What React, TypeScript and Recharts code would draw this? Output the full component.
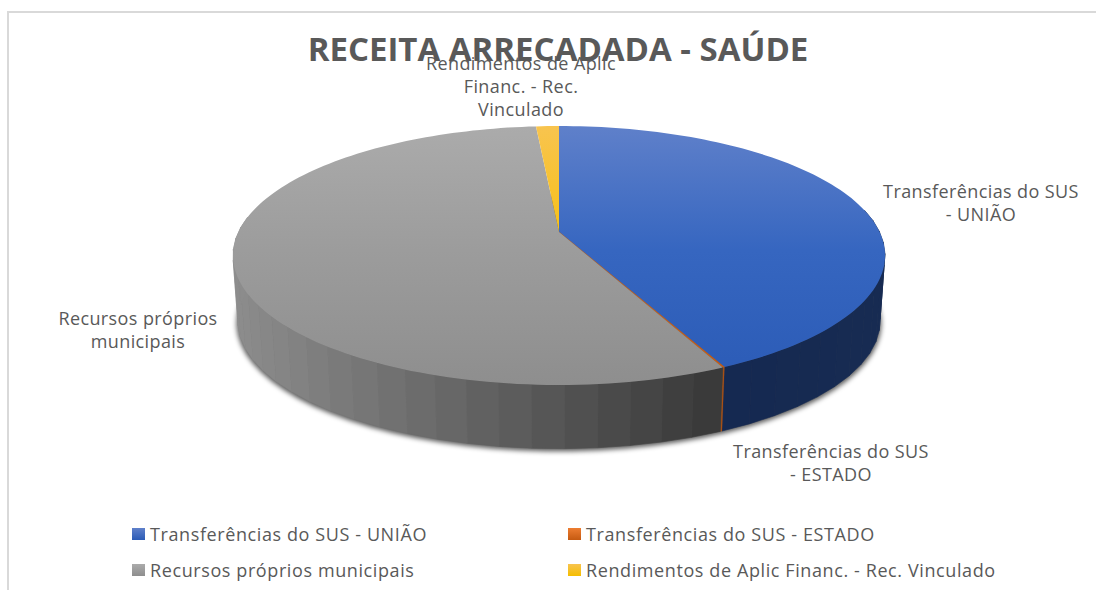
import { PieChart, Pie, Cell, Legend } from "recharts";

const categories = [
  "Transferências do SUS - UNIÃO",
  "Transferências do SUS - ESTADO",
  "Recursos próprios municipais",
  "Rendimentos de Aplic Financ. - Rec. Vinculado",
];
const values = [42.9, 0.08, 55.67, 1.35];
const sliceLabels = [
  ["Transferências do SUS", "- UNIÃO"],
  ["Transferências do SUS", "- ESTADO"],
  ["Recursos próprios", "municipais"],
  ["Rendimentos de Aplic", "Financ. - Rec.", "Vinculado"],
];

const TITLE = "RECEITA ARRECADADA - SAÚDE";
const FONT = "'Open Sans', sans-serif";
const TEXT_COLOR = "#595959";

const COLORS = ["#3565c0", "#ed7d31", "#9c9c9c", "#f5be00"];
// top, middle and bottom of each top face
const GRADIENTS = [
  ["#5f80ca", "#3666c0", "#2b5bb6"],
  ["#ed7d31", "#e06f25", "#c55a11"],
  ["#ababab", "#9c9c9c", "#8e8e8e"],
  ["#f8c44f", "#f6c010", "#f5be00"],
];
// side wall colour at the left / right end of the wall
const WALLS = [
  [[14, 34, 76], [23, 43, 82]],
  [[170, 80, 20], [170, 80, 20]],
  [[140, 140, 140], [56, 56, 56]],
  [[150, 110, 0], [150, 110, 0]],
];
const LABEL_SPOTS = [
  { x: 981, y: 198 },
  { x: 831, y: 458 },
  { x: 138, y: 325 },
  { x: 521, y: 70 },
];

// perspective of the tilted disc
const TILT = 0.1815;
const FLATTEN = 0.3905;
const DEPTH = 66;
const BOTTOM_SCALE = 0.985;

function project(cx: number, cy: number, r: number, angle: number, bottom = false) {
  const rad = (angle * Math.PI) / 180;
  const u = Math.cos(rad);
  const v = -Math.sin(rad);
  const w = 1 - TILT * v;
  const s = bottom ? r * BOTTOM_SCALE : r;
  return {
    x: cx + (s * u) / w,
    y: cy + (bottom ? DEPTH : 0) + (s * FLATTEN * v) / w,
    v,
  };
}

function mix(a: number[], b: number[], t: number) {
  const c = a.map((n, i) => Math.round(n + (b[i] - n) * t));
  return `rgb(${c[0]},${c[1]},${c[2]})`;
}

function Slice(props: any) {
  const { cx, cy, outerRadius, startAngle, endAngle, index } = props;
  const span = endAngle - startAngle;
  const steps = Math.max(1, Math.ceil(Math.abs(span) / 1.5));
  const rim = [];
  for (let i = 0; i <= steps; i++) {
    rim.push(project(cx, cy, outerRadius, startAngle + (span * i) / steps));
  }
  const top =
    `M${cx},${cy} ` + rim.map((p) => `L${p.x.toFixed(1)},${p.y.toFixed(1)}`).join(" ") + " Z";

  const walls = [];
  const wallSteps = Math.max(1, Math.ceil(Math.abs(span) / 5));
  for (let i = 0; i < wallSteps; i++) {
    const a0 = startAngle + (span * i) / wallSteps;
    const a1 = startAngle + (span * (i + 1)) / wallSteps;
    const p0 = project(cx, cy, outerRadius, a0);
    const p1 = project(cx, cy, outerRadius, a1);
    if (p0.v < -0.1 && p1.v < -0.1) continue;
    const q0 = project(cx, cy, outerRadius, a0, true);
    const q1 = project(cx, cy, outerRadius, a1, true);
    const t = ((p0.x + p1.x) / 2 - (cx - outerRadius)) / (outerRadius * 2);
    const [from, to] = WALLS[index];
    const c = mix(from, to, index === 2 ? t / 0.75 : t);
    walls.push(
      <path
        key={i}
        d={`M${p0.x},${p0.y} L${p1.x},${p1.y} L${q1.x},${q1.y} L${q0.x},${q0.y} Z`}
        fill={c}
        stroke={c}
        strokeWidth={index === 1 ? 0.2 : 0.6}
      />
    );
  }

  let shadow = null;
  if (index === 0) {
    const pts = [];
    for (let a = 0; a < 360; a += 4) {
      const p = project(cx, cy + 2, outerRadius * 1.004, a, true);
      pts.push(`${p.x.toFixed(1)},${p.y.toFixed(1)}`);
    }
    shadow = (
      <polygon points={pts.join(" ")} fill="#000" fillOpacity={0.65} style={{ filter: "blur(2.5px)" }} />
    );
  }

  return (
    <g>
      {shadow}
      {walls}
      <path
        d={top}
        fill={`url(#slice${index})`}
        stroke={index === 1 ? GRADIENTS[1][2] : "none"}
        strokeWidth={index === 1 ? 0.4 : 0}
      />
    </g>
  );
}

function SliceLabel(props: any) {
  const spot = LABEL_SPOTS[props.index];
  const lines = sliceLabels[props.index];
  return (
    <text
      x={spot.x}
      y={spot.y}
      textAnchor="middle"
      fontFamily={FONT}
      fontSize={18}
      letterSpacing={0.4}
      fill={TEXT_COLOR}
    >
      {lines.map((line, i) => (
        <tspan key={i} x={spot.x} dy={i === 0 ? 0 : 23}>
          {line}
        </tspan>
      ))}
    </text>
  );
}

function LegendBlock(props: any) {
  const items = props.payload || [];
  return (
    <div style={{ position: "relative", width: 1096, height: 80 }}>
      {items.map((item: any, i: number) => (
        <div
          key={i}
          style={{
            position: "absolute",
            left: i % 2 === 0 ? 132 : 568,
            top: i < 2 ? 0 : 36,
            display: "flex",
            alignItems: "center",
            fontFamily: FONT,
            fontSize: 18,
            letterSpacing: 0.6,
            color: TEXT_COLOR,
            whiteSpace: "nowrap",
            lineHeight: "24px",
          }}
        >
          <span
            style={{
              width: 13,
              height: 12,
              marginRight: 5,
              background: `linear-gradient(${GRADIENTS[i][0]}, ${GRADIENTS[i][2]})`,
            }}
          />
          {item.value}
        </div>
      ))}
    </div>
  );
}

export default function App() {
  const data = categories.map((name, i) => ({ name, value: values[i] }));

  return (
    <div style={{ position: "absolute", left: 0, top: 0, width: 1096, height: 590, background: "#fff", overflow: "hidden" }}>
      <div style={{ position: "absolute", left: 7, top: 11, right: 0, height: 2, background: "#d9d9d9" }} />
      <div style={{ position: "absolute", left: 7, top: 11, bottom: 0, width: 2, background: "#d9d9d9" }} />
      <PieChart
        width={1096}
        height={590}
        margin={{ top: 0, right: 0, bottom: 0, left: 0 }}
        style={{ position: "absolute", left: 0, top: 0 }}
      >
        <defs>
          {GRADIENTS.map((g, i) => (
            <linearGradient key={i} id={`slice${i}`} gradientUnits="userSpaceOnUse" x1={0} y1={126} x2={0} y2={385}>
              <stop offset="0" stopColor={g[0]} />
              <stop offset="0.48" stopColor={g[1]} />
              <stop offset="1" stopColor={g[2]} />
            </linearGradient>
          ))}
        </defs>
        <text x={558} y={61} textAnchor="middle" fontFamily={FONT} fontWeight={700} fontSize={33} fill={TEXT_COLOR}>
          {TITLE}
        </text>
        <Pie
          data={data}
          dataKey="value"
          nameKey="name"
          cx={559}
          cy={232}
          innerRadius={0}
          outerRadius={320.6}
          startAngle={90}
          endAngle={-270}
          stroke="none"
          isAnimationActive={false}
          shape={Slice}
          label={SliceLabel}
          labelLine={false}
        >
          {data.map((entry, index) => (
            <Cell key={index} fill={COLORS[index]} />
          ))}
        </Pie>
        <Legend
          content={LegendBlock}
          itemSorter={null}
          wrapperStyle={{ position: "absolute", left: 0, top: 522, width: 1096 }}
        />
      </PieChart>
    </div>
  );
}
